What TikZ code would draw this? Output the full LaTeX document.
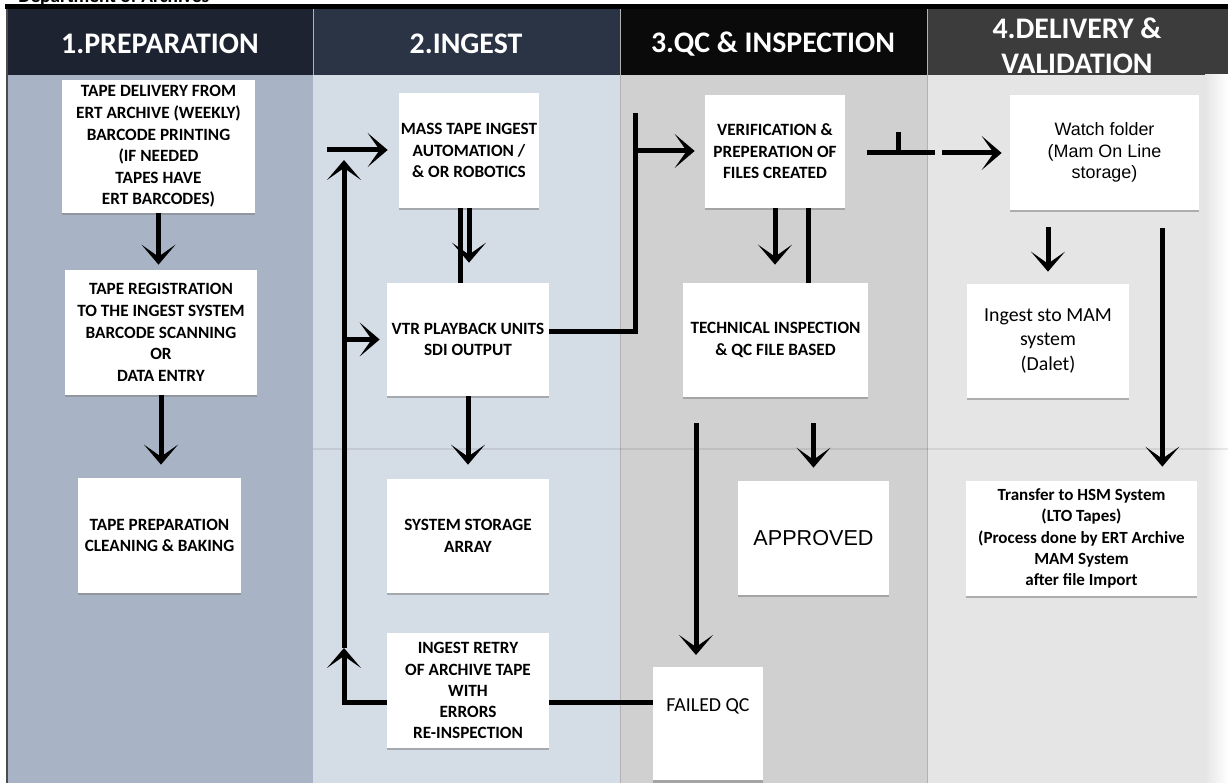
\documentclass[tikz,border=0pt]{standalone}
\usepackage{fontspec}
\setmainfont{Carlito}
\newfontfamily\arialfont{Liberation Sans}
\usetikzlibrary{arrows.meta,shadows}
\definecolor{HeadPrep}{RGB}{29,35,49}
\definecolor{HeadIngest}{RGB}{43,52,69}
\definecolor{HeadQC}{RGB}{10,10,10}
\definecolor{HeadDeliv}{RGB}{60,60,60}
\definecolor{BodyPrep}{RGB}{168,180,197}
\definecolor{BodyIngest}{RGB}{212,220,230}
\definecolor{BodyQC}{RGB}{208,208,208}
\definecolor{BodyDeliv}{RGB}{229,229,229}
\begin{document}
\begin{tikzpicture}[x=0.02cm,y=-0.02cm,
  card/.style={fill=white,inner sep=0pt,align=center,font=\bfseries\fontsize{9.8}{12.3}\selectfont,drop shadow={shadow xshift=0pt,shadow yshift=-1.3pt,opacity=0.55}},
  head/.style={text=white,align=center,font=\bfseries\fontsize{17}{20}\selectfont},
  arr/.style={-{Stealth[length=0.4cm,width=0.68cm,inset=0.24cm]},line width=0.1cm},
  link/.style={line width=0.1cm}
]
\useasboundingbox (0,0) rectangle (1228,783);
\fill[white] (0,0) rectangle (1228,783);
\node[anchor=base west,inner sep=0pt,font=\bfseries\fontsize{11}{13}\selectfont] (dept) at (18,3) {Department of Archives};
\fill[black] (5,4) rectangle (1228,9);

\fill[HeadPrep] (7,9) rectangle (313,75);
\fill[HeadIngest] (313,9) rectangle (620,75);
\fill[HeadQC] (620,9) rectangle (927,75);
\fill[HeadDeliv] (927,9) rectangle (1228,75);
\foreach \xb in {313,620,927} \draw[gray!60,line width=0.5pt] (\xb,9) -- (\xb,75);
\fill[BodyPrep] (7,75) rectangle (313,783);
\fill[BodyIngest] (313,75) rectangle (620,783);
\fill[BodyQC] (620,75) rectangle (927,783);
\fill[BodyDeliv] (927,75) rectangle (1228,783);
\shade[left color=BodyDeliv,right color=white] (1205,75) rectangle (1228,783);
\draw[black!70,line width=0.6pt] (7,9) -- (7,783);
\draw[black!30,line width=0.5pt] (620,75) -- (620,783);
\draw[black!30,line width=0.5pt] (927,75) -- (927,783);
\draw[black,opacity=0.08,line width=1pt] (313,449) -- (1228,449);

\node[head] (hprep) at (160,44) {1.PREPARATION};
\node[head] (hingest) at (466,44) {2.INGEST};
\node[head] (hqc) at (773,44) {3.QC \& INSPECTION};
\node[head,font=\bfseries\fontsize{17}{19.8}\selectfont] (hdeliv) at (1077,46) {4.DELIVERY \&\\VALIDATION};

\node[card,minimum width=3.86cm,minimum height=2.66cm] (tapedelivery) at (158.5,146.5) {TAPE DELIVERY FROM\\ERT ARCHIVE (WEEKLY)\\BARCODE PRINTING\\(IF NEEDED\\TAPES HAVE\\ERT BARCODES)};
\node[card,minimum width=3.84cm,minimum height=2.5cm] (registration) at (161,332.5) {TAPE REGISTRATION\\TO THE INGEST SYSTEM\\BARCODE SCANNING\\OR\\DATA ENTRY};
\node[card,minimum width=3.26cm,minimum height=2.3cm] (tapeprep) at (159.5,535.5) {TAPE PREPARATION\\CLEANING \& BAKING};

\node[card,minimum width=2.8cm,minimum height=2.3cm] (massingest) at (469,150.5) {MASS TAPE INGEST\\AUTOMATION /\\\& OR ROBOTICS};
\node[card,minimum width=3.24cm,minimum height=2.26cm] (vtr) at (468,339.5) {VTR PLAYBACK UNITS\\SDI OUTPUT};
\node[card,minimum width=3.24cm,minimum height=2.28cm] (storage) at (468,536) {SYSTEM STORAGE\\ARRAY};
\node[card,minimum width=3.24cm,minimum height=2.3cm,font=\bfseries\fontsize{9.8}{12}\selectfont] (retry) at (468,690.5) {INGEST RETRY\\OF ARCHIVE TAPE\\WITH\\ERRORS\\RE-INSPECTION};

\node[card,minimum width=2.8cm,minimum height=2.26cm] (verify) at (775,151.5) {VERIFICATION \&\\PREPERATION OF\\FILES CREATED};
\node[card,minimum width=3.7cm,minimum height=2.28cm] (techqc) at (775.5,340) {TECHNICAL INSPECTION\\\& QC FILE BASED};
\node[card,minimum width=3.02cm,minimum height=2.28cm,font=\arialfont\fontsize{12.3}{14}\selectfont] (approved) at (813.5,538) {APPROVED};
\node[card,anchor=north,minimum width=2.2cm,text height=0.89cm,text depth=1.37cm,font=\fontsize{11.3}{13}\selectfont] (failedqc) at (708,667) {FAILED QC};

\node[card,minimum width=3.78cm,minimum height=2.3cm,font=\arialfont\fontsize{10.2}{12.2}\selectfont] (watchfolder) at (1104.5,152.5) {Watch folder\\(Mam On Line\\storage)};
\node[card,minimum width=3.24cm,minimum height=2.28cm,font=\fontsize{11.3}{14.2}\selectfont] (mamingest) at (1048,341) {Ingest sto MAM\\system\\(Dalet)};
\node[card,minimum width=4.62cm,minimum height=2.3cm,font=\bfseries\fontsize{9.7}{12.2}\selectfont] (hsm) at (1081.5,538.5) {Transfer to HSM System\\(LTO Tapes)\\(Process done by ERT Archive\\MAM System\\after file Import};

\coordinate (loopmid) at (344,648);
\coordinate (looptop) at (344,160);
\coordinate (feed) at (327,150);
\coordinate (split) at (635,151);
\coordinate (splittop) at (635,113);
\coordinate (gatestart) at (867,153);
\coordinate (gate) at (898,153);
\coordinate (gatetick) at (898,132);
\coordinate (gateend) at (935,153);
\coordinate (handoff) at (942,153);

\draw[arr,shorten >=0.1cm] (tapedelivery.south) -- (tapedelivery.south |- registration.north);
\draw[arr,shorten >=0.26cm] (registration.south) -- (registration.south |- tapeprep.north);

\draw[link] ([xshift=-0.18cm]massingest.south) -- ([xshift=-0.18cm]massingest.south |- vtr.north);
\draw[arr,shorten >=0.4cm] (massingest.south) -- (massingest.south |- vtr.north);
\draw[arr,shorten >=0.28cm] (vtr.south) -- (storage.north);
\draw[arr] ([yshift=-0.24cm]retry.west) -| (loopmid);
\draw[arr] (loopmid) -- (looptop);
\draw[arr,shorten >=0.22cm] (feed) -- (feed -| massingest.west);
\draw[arr,shorten >=0.14cm] (vtr.west -| loopmid) -- (vtr.west);

\draw[link] ([yshift=0.15cm]vtr.east) -| (splittop);
\draw[arr,shorten >=0.2cm] (split) -- (split -| verify.west);
\draw[arr,shorten >=0.36cm] (verify.south) -- (verify.south |- techqc.north);
\draw[link] ([xshift=0.66cm]verify.south) -- ([xshift=0.66cm]verify.south |- techqc.north);
\draw[arr,shorten <=0.52cm,shorten >=0.24cm] ([xshift=-0.24cm]failedqc.north |- techqc.south) -- ([xshift=-0.24cm]failedqc.north);
\draw[arr,shorten <=0.52cm,shorten >=0.26cm] (approved.north |- techqc.south) -- (approved.north);
\draw[link] ([yshift=-0.25cm]retry.east) -- ([yshift=-0.25cm]retry.east -| failedqc.west);

\draw[link] (gatestart) -- (gateend);
\draw[link] (gate) -- (gatetick);
\draw[arr,shorten >=0.16cm] (handoff) -- (handoff -| watchfolder.west);
\draw[arr,shorten <=0.34cm,shorten >=0.24cm] (mamingest.north |- watchfolder.south) -- (mamingest.north);
\draw[arr,shorten <=0.36cm,shorten >=0.28cm] ([xshift=-0.74cm]watchfolder.south east) -- ([xshift=-0.74cm]watchfolder.south east |- hsm.north);
\end{tikzpicture}
\end{document}
